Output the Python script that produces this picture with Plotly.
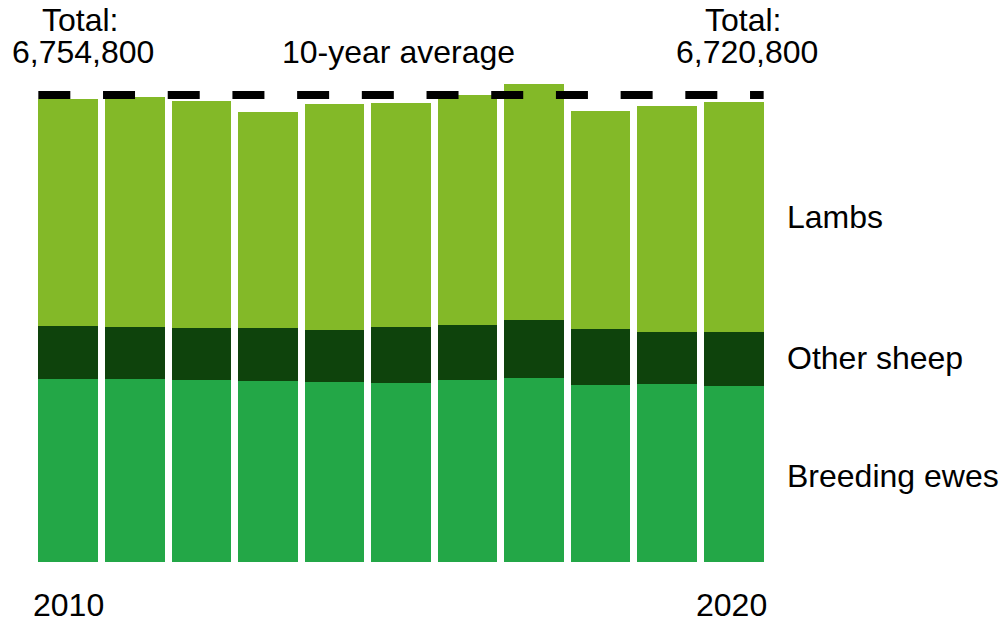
import plotly.graph_objects as go

years = [2010, 2011, 2012, 2013, 2014, 2015, 2016, 2017, 2018, 2019, 2020]
breeding_ewes = [2676000, 2676000, 2657000, 2647000, 2632000, 2618000, 2653000, 2691000, 2584000, 2599000, 2570000]
other_sheep = [769000, 755000, 764000, 774000, 750000, 809000, 812000, 838000, 813000, 764000, 784000]
lambs = [3309800, 3362000, 3314000, 3145000, 3308000, 3270000, 3354000, 3450000, 3183000, 3300000, 3366800]
ten_year_average = 6818000
series_names = ["Breeding ewes", "Other sheep", "Lambs"]
colors = ["#23a747", "#0e430c", "#83b928"]

total_first = "6,754,800"
total_last = "6,720,800"

W, H = 1003, 623
plot_left, plot_right = 35.3, 766.8
plot_top, plot_bottom = 80.0, 562.0
L = plot_left
T = plot_top
R = W - plot_right
B = H - plot_bottom
plot_w = plot_right - plot_left
plot_h = plot_bottom - plot_top
px_per_unit = 14600.0
y_max = plot_h * px_per_unit

FONT = "Liberation Sans, Arial, sans-serif"

fig = go.Figure()
for name, vals, col in zip(series_names, [breeding_ewes, other_sheep, lambs], colors):
    fig.add_trace(go.Bar(x=years, y=vals, name=name, marker=dict(color=col, line=dict(width=0))))

fig.add_trace(go.Scatter(
    x=[years[0] - 0.45, years[-1] + 0.45], y=[ten_year_average, ten_year_average],
    mode="lines", line=dict(color="black", width=8, dash="32px,32.7px"),
    showlegend=False, hoverinfo="skip"))

def px_to_paper(xp, yp):
    return (xp - plot_left) / plot_w, (plot_bottom - yp) / plot_h

anns = [
    ("Total:", 80, 19.5, "center"),
    (total_first, 83.3, 52.5, "center"),
    ("10-year average", 398.6, 52.5, "center"),
    ("Total:", 742.8, 19.5, "center"),
    (total_last, 747.3, 52.5, "center"),
    ("Lambs", 785, 216.7, "left"),
    ("Other sheep", 785, 358.3, "left"),
    ("Breeding ewes", 785, 475.5, "left"),
    (str(years[0]), 68.3, 605.3, "center"),
    (str(years[-1]), 731.5, 605.3, "center"),
]
for text, xp, yp, anchor in anns:
    xx, yy = px_to_paper(xp, yp)
    fig.add_annotation(x=xx, y=yy, xref="paper", yref="paper", text=text, showarrow=False,
                       xanchor=anchor, yanchor="middle",
                       font=dict(family=FONT, size=32, color="black"))

fig.update_layout(
    width=W, height=H,
    margin=dict(l=L, r=R, t=T, b=B, pad=0),
    barmode="stack", bargap=0.105,
    plot_bgcolor="white", paper_bgcolor="white",
    showlegend=False, hovermode=False,
    xaxis=dict(range=[years[0] - 0.5, years[-1] + 0.5], visible=False),
    yaxis=dict(range=[0, y_max], visible=False),
)

fig.write_html("out.html",
               config={"displayModeBar": False, "staticPlot": True},
               post_script="document.body.style.margin='0';document.body.style.overflow='hidden';")
